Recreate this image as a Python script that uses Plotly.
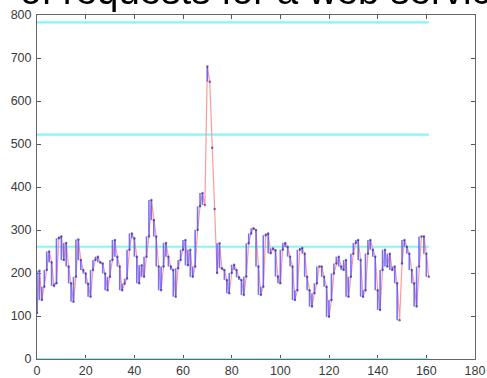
import plotly.graph_objects as go

# ---- data ----
x_vals = list(range(0, 162))
requests = [
    107, 205, 137, 168, 207, 250, 225, 170, 176, 281,
    285, 230, 270, 215, 176, 133, 191, 278, 230, 207,
    199, 175, 145, 207, 230, 238, 225, 222, 199, 160,
    191, 230, 277, 238, 215, 160, 175, 187, 254, 292,
    281, 238, 176, 218, 191, 238, 285, 370, 323, 285,
    215, 160, 215, 270, 238, 215, 207, 145, 211, 230,
    254, 277, 218, 254, 191, 215, 300, 355, 386, 358,
    680, 645, 491, 349, 200, 269, 211, 207, 184, 153,
    200, 219, 207, 190, 184, 149, 192, 269, 292, 304,
    300, 215, 149, 168, 288, 292, 246, 257, 253, 192,
    176, 254, 270, 261, 238, 215, 137, 160, 254, 258,
    245, 191, 160, 122, 153, 176, 215, 215, 191, 168,
    98, 137, 199, 222, 238, 215, 207, 230, 145, 191,
    245, 270, 277, 230, 145, 160, 245, 277, 254, 238,
    160, 114, 207, 254, 215, 245, 207, 215, 176, 90,
    222, 277, 261, 245, 207, 176, 122, 215, 285, 285,
    245, 191,
]
threshold_levels = [0, 261, 522, 783]
threshold_x = [0, 161]
x_ticks = [0, 20, 40, 60, 80, 100, 120, 140, 160, 180]
y_ticks = [0, 100, 200, 300, 400, 500, 600, 700, 800]
title_text = "of requests for a web service"

# ---- build traces ----
fig = go.Figure()

# threshold lines
tx, ty = [], []
for lv in threshold_levels:
    tx += [threshold_x[0], threshold_x[1], None]
    ty += [lv, lv, None]
fig.add_trace(go.Scatter(x=tx, y=ty, mode="lines",
                         line=dict(color="#80f8f8", width=2.2),
                         hoverinfo="skip", showlegend=False))

# pink connecting line
fig.add_trace(go.Scatter(x=x_vals, y=requests, mode="lines",
                         line=dict(color="#ff9a9a", width=1.2),
                         showlegend=False))

# blue vertical strokes between consecutive samples
bx, by = [], []
for i in range(len(requests) - 1):
    if abs(requests[i + 1] - requests[i]) <= 130:
        bx += [x_vals[i], x_vals[i], None]
        by += [requests[i], requests[i + 1], None]
fig.add_trace(go.Scatter(x=bx, y=by, mode="lines",
                         line=dict(color="#5a5aff", width=1.6),
                         opacity=0.85, showlegend=False))

# small dark sample dots
fig.add_trace(go.Scatter(x=x_vals, y=requests, mode="markers",
                         marker=dict(color="#2a1f80", size=2.5),
                         opacity=0.6, showlegend=False))

axis_common = dict(
    showgrid=False, zeroline=False, showline=True, linecolor="#666",
    linewidth=1, mirror="ticks", ticks="inside", ticklen=4,
    tickcolor="#555", tickwidth=1, layer="below traces", automargin=False,
    tickfont=dict(family="Arial, Liberation Sans, sans-serif", size=12.5, color="#3a3a3a"),
)

fig.update_layout(
    width=487, height=378,
    margin=dict(l=37, r=12, t=15, b=19, autoexpand=False),
    paper_bgcolor="white", plot_bgcolor="white",
    xaxis=dict(range=[0, 180], tickvals=x_ticks, **axis_common),
    yaxis=dict(range=[0, 800], tickvals=y_ticks, ticklabelstandoff=2, **axis_common),
    annotations=[dict(
        text=title_text, xref="paper", yref="paper",
        x=-0.043, y=1.004, xanchor="left", yanchor="bottom",
        showarrow=False,
        font=dict(family="Arial, Liberation Sans, sans-serif", size=38.5, color="black"),
    )],
)

fig.write_html("out.html", config={"displayModeBar": False},
               post_script="document.body.style.margin='0';")
